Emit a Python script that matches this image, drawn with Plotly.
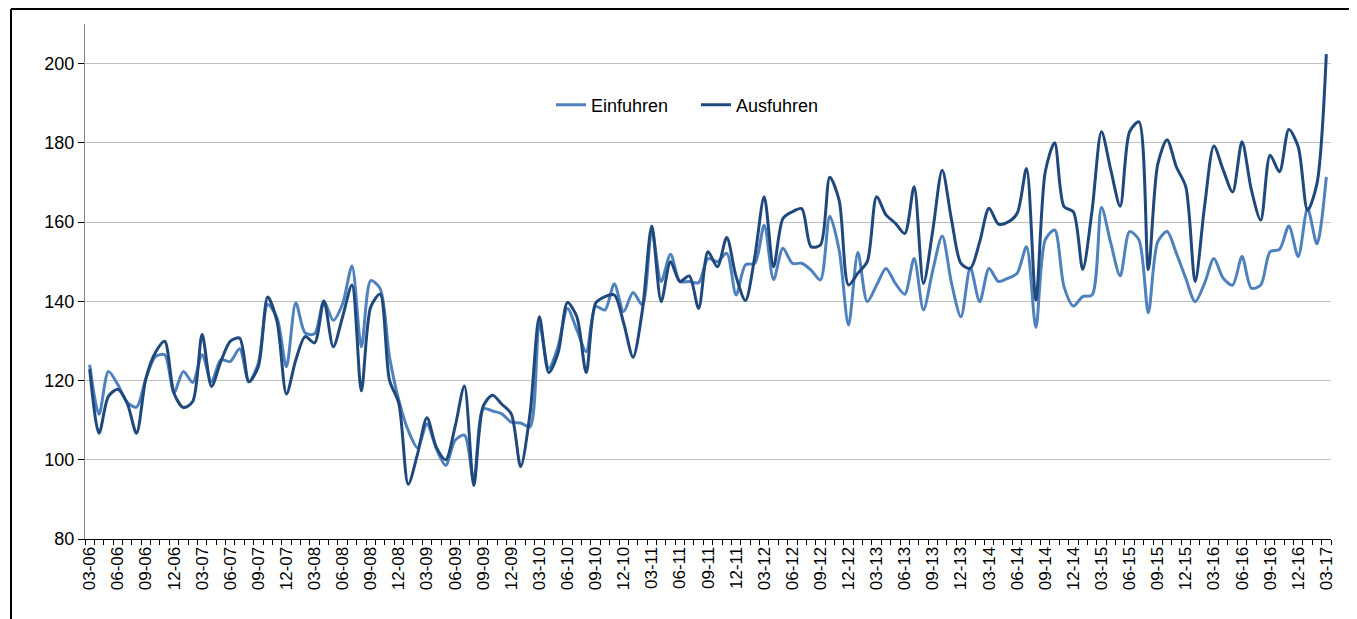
import plotly.graph_objects as go

months = list(range(133))

tick_positions = list(range(0, 133, 3))
tick_labels = [
    "03-06", "06-06", "09-06", "12-06", "03-07", "06-07", "09-07", "12-07",
    "03-08", "06-08", "09-08", "12-08", "03-09", "06-09", "09-09", "12-09",
    "03-10", "06-10", "09-10", "12-10", "03-11", "06-11", "09-11", "12-11",
    "03-12", "06-12", "09-12", "12-12", "03-13", "06-13", "09-13", "12-13",
    "03-14", "06-14", "09-14", "12-14", "03-15", "06-15", "09-15", "12-15",
    "03-16", "06-16", "09-16", "12-16", "03-17",
]

einfuhren = [
    124.0, 111.5, 122.3, 119.0, 114.5, 113.3, 120.5, 126.0, 126.5, 117.0,
    122.3, 119.5, 126.5, 119.7, 125.2, 124.8, 128.0, 119.7, 124.4, 139.2,
    135.8, 123.5, 139.6, 132.0, 131.8, 140.1, 135.2, 139.4, 148.9, 128.5,
    145.2, 143.2, 126.0, 115.0, 107.4, 103.0, 109.0, 102.8, 98.6, 104.9,
    106.2, 94.8, 112.9, 112.3, 111.6, 109.5, 109.3, 108.3, 134.4, 123.1,
    128.6, 138.2, 132.8, 127.3, 138.7, 137.8, 144.4, 137.4, 142.2, 139.1,
    158.0, 145.0, 151.9, 145.0, 145.0, 144.7, 150.8, 150.0, 152.1, 141.6,
    149.2, 149.6, 159.2, 145.5, 153.4, 149.6, 149.6, 147.9, 145.4, 161.5,
    152.9, 134.0, 152.3, 139.9, 144.1, 148.3, 144.5, 141.8, 150.8, 137.8,
    147.9, 156.5, 144.5, 136.1, 148.5, 139.9, 148.3, 145.0, 145.8, 147.1,
    153.8, 133.4, 155.5, 158.0, 143.7, 138.8, 141.2, 141.6, 163.7, 154.6,
    146.4, 157.6, 155.5, 137.1, 155.0, 157.6, 152.1, 145.8, 139.9, 144.5,
    150.8, 145.8, 144.1, 151.3, 143.3, 144.1, 152.5, 153.1, 159.0, 151.3,
    163.4, 154.5, 171.4,
]

ausfuhren = [
    122.9, 106.7, 116.0, 117.8, 114.3, 106.7, 120.5, 127.0, 129.9, 116.8,
    113.2, 114.7, 131.6, 118.5, 124.8, 129.9, 130.7, 119.7, 123.5, 141.1,
    134.9, 116.6, 125.2, 131.1, 129.5, 140.1, 128.5, 136.1, 144.1, 117.4,
    138.6, 141.8, 120.1, 114.2, 93.8, 101.5, 110.6, 103.2, 100.0, 108.3,
    118.6, 93.5, 113.5, 116.3, 114.0, 111.6, 98.3, 111.6, 136.1, 122.0,
    127.0, 139.7, 136.1, 122.0, 139.5, 141.2, 141.6, 134.5, 125.9, 137.8,
    159.0, 139.9, 150.0, 145.0, 146.4, 138.2, 152.5, 148.7, 156.1, 146.2,
    140.2, 151.3, 166.4, 148.7, 160.9, 162.6, 163.4, 153.8, 154.2, 171.3,
    165.5, 144.1, 147.1, 150.0, 166.4, 161.8, 159.7, 157.1, 168.9, 144.5,
    158.0, 173.1, 160.5, 149.6, 148.3, 155.0, 163.5, 159.5, 160.0, 162.2,
    173.5, 140.3, 172.7, 180.0, 163.9, 162.6, 148.1, 163.0, 182.8, 173.1,
    164.0, 182.8, 185.3, 148.0, 174.5, 180.8, 173.9, 168.9, 145.0, 163.9,
    179.2, 173.1, 167.6, 180.3, 168.1, 160.5, 176.9, 172.7, 183.4, 179.0,
    163.0, 169.7, 202.4,
]

FONT = "Liberation Sans, Arial, sans-serif"

fig = go.Figure()
fig.add_trace(go.Scatter(
    x=months, y=einfuhren, name="Einfuhren", mode="lines",
    line=dict(color="#4F81BD", width=3, shape="spline", smoothing=0.8),
))
fig.add_trace(go.Scatter(
    x=months, y=ausfuhren, name="Ausfuhren", mode="lines",
    line=dict(color="#1F497D", width=3, shape="spline", smoothing=0.8),
))

# page offset caused by the default 8px body margin
OFF = 8
W, H = 1357 - OFF, 619 - OFF
# plot area in page coordinates: x 85..1331, y 24..539
L, R, T, B = 85 - OFF, 1357 - 1331, 24 - OFF, 619 - 539
pw, ph = W - L - R, H - T - B


def px(xp):
    return (xp - OFF - L) / pw


def py(yp):
    return (T + ph - (yp - OFF)) / ph


fig.update_layout(
    width=W, height=H,
    margin=dict(l=L, r=R, t=T, b=B, pad=0),
    paper_bgcolor="white", plot_bgcolor="white",
    font=dict(family=FONT, size=17, color="#000000"),
    showlegend=True,
    legend=dict(
        orientation="h", x=px(551), y=py(105), xanchor="left", yanchor="middle",
        font=dict(family=FONT, size=18, color="#000000"),
        bgcolor="rgba(0,0,0,0)", entrywidth=100, entrywidthmode="pixels",
        itemwidth=30,
    ),
    xaxis=dict(
        range=[-0.5, 132.5],
        tickmode="array", tickvals=tick_positions, ticktext=tick_labels,
        tickangle=-90, ticks="", showgrid=False, zeroline=False,
        showline=True, linecolor="#000000", linewidth=1,
        tickfont=dict(family=FONT, size=17, color="#000000"),
        minor=dict(tickmode="linear", tick0=-0.5, dtick=1, ticks="outside",
                   ticklen=5, tickwidth=1, tickcolor="#000000", showgrid=False),
        fixedrange=True,
    ),
    yaxis=dict(
        range=[80, 210], tickmode="array", tickvals=[80, 100, 120, 140, 160, 180, 200],
        ticks="outside", ticklen=6, tickwidth=1, tickcolor="#000000",
        showgrid=True, gridcolor="#BFBFBF", gridwidth=1, zeroline=False,
        showline=True, linecolor="#868686", linewidth=1,
        tickfont=dict(family=FONT, size=18, color="#000000"),
        fixedrange=True,
    ),
    shapes=[
        dict(type="line", xref="paper", yref="paper", x0=px(11), x1=px(1380),
             y0=py(9), y1=py(9), line=dict(color="#000000", width=2)),
        dict(type="line", xref="paper", yref="paper", x0=px(11), x1=px(11),
             y0=py(9), y1=py(640), line=dict(color="#000000", width=2)),
    ],
)

fig.write_html("out.html")
